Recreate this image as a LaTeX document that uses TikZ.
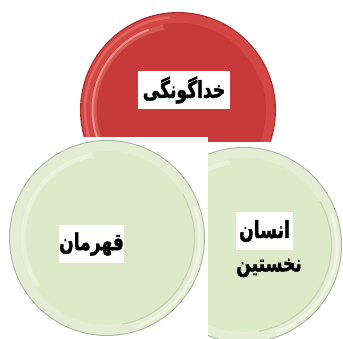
\documentclass[tikz,border=0pt]{standalone}
\usepackage{fontspec}
\newfontfamily\arabicbold[Script=Arabic,FakeBold=2]{DejaVu Sans Bold}
\TeXXeTstate=1
\definecolor{rin}{RGB}{200,58,58}
\definecolor{rrim}{RGB}{212,70,68}
\definecolor{rhi}{RGB}{245,160,150}
\definecolor{redge}{RGB}{170,40,40}
\definecolor{gin}{RGB}{221,234,201}
\definecolor{grim}{RGB}{228,237,212}
\definecolor{ghi}{RGB}{248,250,240}
\definecolor{gedge}{RGB}{170,180,155}
\tikzset{
  plate/.style={circle, minimum size=196pt, inner sep=0pt},
  lbl/.style={fill=white, inner sep=0pt, minimum height=38pt,
    font=\arabicbold\fontsize{18}{20}\selectfont},
  plain/.style={inner sep=0pt, font=\arabicbold\fontsize{18}{20}\selectfont}
}
\newcommand\txt[1]{\scalebox{0.95}[1.3]{\beginR #1\endR}}
\begin{document}
\begin{tikzpicture}[x=1pt,y=1pt]
\useasboundingbox[fill=white] (0,0) rectangle (343,338);
% ---------- top red plate
\node[plate, fill=redge] (top) at (178,228) {};
\fill[rrim] (top.center) circle (96.8);
\draw[line width=2.5pt, rhi, opacity=0.35] ([shift={(95:93)}]top.center) arc (95:200:93);
\fill[rin] (top.center) circle (87);
\draw[line width=5pt, rhi, opacity=0.3] ([shift={(100:84)}]top.center) arc (100:215:84);
\draw[line width=2pt, rhi, opacity=0.8] ([shift={(110:85.5)}]top.center) arc (110:205:85.5);
\draw[line width=1pt, redge, opacity=0.4] ([shift={(-80:87.5)}]top.center) arc (-80:20:87.5);
% ---------- right green plate (clipped)
\fill[white] (208,0) rectangle (343,196);
\begin{scope}
\clip (208,0) rectangle (343,196);
\node[plate, fill=gedge] (right) at (244,93) {};
\fill[grim] (right.center) circle (97);
\draw[line width=3pt, ghi, opacity=0.6] ([shift={(-70:93)}]right.center) arc (-70:20:93);
\fill[gin] (right.center) circle (87);
\draw[line width=5pt, ghi, opacity=0.4] ([shift={(100:84)}]right.center) arc (100:215:84);
\draw[line width=1.2pt, gedge, opacity=0.45] ([shift={(-80:87.5)}]right.center) arc (-80:30:87.5);
\end{scope}
% ---------- left green plate
\fill[white] (0,0) rectangle (208,201);
\node[plate, fill=gedge] (left) at (107,100) {};
\fill[grim] (left.center) circle (97);
\draw[line width=3pt, ghi, opacity=0.6] ([shift={(-70:93)}]left.center) arc (-70:20:93);
\fill[gin] (left.center) circle (87);
\draw[line width=5pt, ghi, opacity=0.4] ([shift={(100:84)}]left.center) arc (100:215:84);
\draw[line width=1.2pt, gedge, opacity=0.45] ([shift={(-80:87.5)}]left.center) arc (-80:30:87.5);
% ---------- labels
\node[lbl, minimum width=92pt] (t1) at (184,248) {\txt{خداگونگی}};
\node[lbl, minimum width=63pt] (t2) at (91.5,94) {\txt{قهرمان}};
\node[lbl, minimum width=57pt] (t3) at (264.5,107) {\txt{انسان}};
\node[plain] (t4) at (269,70) {\txt{نخستین}};
\end{tikzpicture}
\end{document}
